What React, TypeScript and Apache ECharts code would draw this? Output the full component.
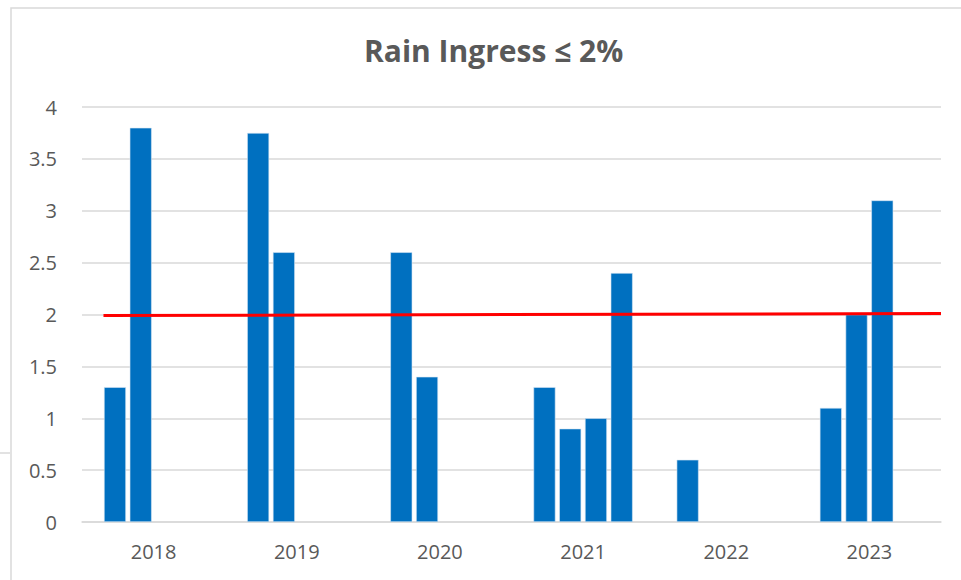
import React, { useEffect, useRef } from "react";
import * as echarts from "echarts";

const years = ["2018", "2019", "2020", "2021", "2022", "2023"];
const seriesA = [1.3, 3.75, 2.6, 1.3, 0.6, 1.1];
const seriesB = [3.8, 2.6, 1.4, 0.9, null, 2.0];
const seriesC = [null, null, null, 1.0, null, 3.1];
const seriesD = [null, null, null, 2.4, null, null];
const targetLine = [
  [0.15, 1.99],
  [6, 2.01],
];
const titleText = "Rain Ingress ≤ 2%";

export default function App() {
  const ref = useRef<HTMLDivElement>(null);
  useEffect(() => {
    if (!ref.current) return;
    const chart = echarts.init(ref.current, null, { renderer: "svg" });
    const barStyle = {
      type: "bar",
      barWidth: 22,
      barGap: "17%",
      itemStyle: { color: "#0070C0", borderColor: "#d6e6f4", borderWidth: 0.6 },
    };
    const font = "'Open Sans', 'Noto Sans', sans-serif";
    chart.setOption({
      animation: false,
      backgroundColor: "#ffffff",
      title: {
        text: titleText,
        left: 359,
        top: 30,
        textStyle: { color: "#595959", fontSize: 30, fontWeight: "bold", fontFamily: font },
      },
      graphic: [
        {
          type: "rect",
          shape: { x: 11, y: 8, width: 1000, height: 700 },
          style: { fill: "none", stroke: "#d9d9d9", lineWidth: 1.5 },
          silent: true,
        },
        {
          type: "line",
          shape: { x1: 0, y1: 453, x2: 10, y2: 453 },
          style: { stroke: "#d9d9d9", lineWidth: 1.5 },
          silent: true,
        },
      ],
      grid: { left: 82, right: 20, top: 107, bottom: 58, containLabel: false },
      xAxis: [
        {
          type: "category",
          data: years,
          axisLine: { show: true, lineStyle: { color: "#d9d9d9", width: 1.5 } },
          axisTick: { show: false },
          axisLabel: { color: "#595959", fontSize: 20, fontFamily: font, margin: 19 },
        },
        {
          type: "value",
          min: 0,
          max: 6,
          show: false,
        },
      ],
      yAxis: {
        type: "value",
        min: 0,
        max: 4,
        interval: 0.5,
        axisLine: { show: false },
        axisTick: { show: false },
        splitLine: { lineStyle: { color: "#d9d9d9", width: 1.5 } },
        axisLabel: { color: "#595959", fontSize: 20, fontFamily: font, margin: 25 },
      },
      series: [
        { ...barStyle, name: "A", data: seriesA },
        { ...barStyle, name: "B", data: seriesB },
        { ...barStyle, name: "C", data: seriesC },
        { ...barStyle, name: "D", data: seriesD },
        {
          type: "line",
          name: "Target",
          xAxisIndex: 1,
          data: targetLine,
          symbol: "none",
          lineStyle: { color: "#ff0000", width: 3 },
          z: 5,
        },
      ],
    });
    return () => chart.dispose();
  }, []);
  return (
    <div
      ref={ref}
      style={{ position: "fixed", left: 0, top: 0, width: 961, height: 580 }}
    />
  );
}
